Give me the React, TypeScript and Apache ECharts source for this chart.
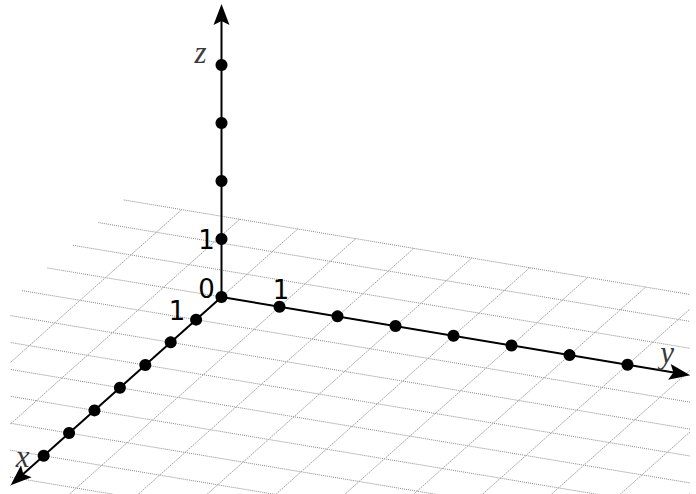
import React, { useEffect, useRef } from "react";
import * as echarts from "echarts";

// ---- data ----
// projection of one unit along each 3D axis onto the page (in z-units: [horizontal, vertical])
const xDir = [-0.438, -0.391];
const yDir = [1.0, -0.167];
const zDir = [0, 1];

const xPoints = [1, 2, 3, 4, 5, 6, 7];
const yPoints = [1, 2, 3, 4, 5, 6, 7];
const zPoints = [1, 2, 3, 4];

const axisNames = ["x", "y", "z"];
const axisLengths = [8.3, 8.08, 5.05];
const axisNameAnchors = [7, 7.7, 4.22];

const tickLabels = ["0", "1", "1", "1"];
const tickLabelAnchors = [
  [0, 0, 0],
  [0, 0, 1],
  [0, 1, 0],
  [1, 0, 0],
];

// grid on the xy-plane
const gridXLines = [-3, -2, -1, 0, 1, 2, 3, 4, 5, 6, 7, 8, 9, 10];
const gridYLines = [-2, -1, 0, 1, 2, 3, 4, 5, 6, 7, 8, 9, 10, 11, 12, 13, 14, 15, 16];
const gridStart = -3;
const gridEnd = 18;

// ---- projection ----
function proj(x: number, y: number, z: number): number[] {
  return [
    x * xDir[0] + y * yDir[0] + z * zDir[0],
    x * xDir[1] + y * yDir[1] + z * zDir[1],
  ];
}

const tickLabelOffsets = [
  [-15, -8],
  [-15, 1],
  [1.5, -17],
  [-19, -9],
];
const axisNameOffsets = [
  [-21, 1],
  [-1, -19],
  [-21, 0],
];

export default function App() {
  const ref = useRef<HTMLDivElement>(null);

  useEffect(() => {
    if (!ref.current) return;
    const chart = echarts.init(ref.current, undefined, { renderer: "svg" });

    const unit = 58;
    const ox = 221.5;
    const oy = 297;
    const gLeft = 10;
    const gWidth = 680;
    const H = 494;

    const gridData: number[][] = [];
    gridXLines.forEach((x) => gridData.push([x, gridStart, x, gridEnd, 0]));
    gridYLines.forEach((y) => gridData.push([gridStart, y, gridEnd, y, 1]));

    const dots: number[][] = [proj(0, 0, 0)];
    xPoints.forEach((v) => dots.push(proj(v, 0, 0)));
    yPoints.forEach((v) => dots.push(proj(0, v, 0)));
    zPoints.forEach((v) => dots.push(proj(0, 0, v)));

    const dirs3 = [
      [1, 0, 0],
      [0, 1, 0],
      [0, 0, 1],
    ];

    const option: any = {
      animation: false,
      grid: { left: gLeft, top: 0, width: gWidth, height: H, containLabel: false },
      xAxis: {
        type: "value",
        min: (gLeft - ox) / unit,
        max: (gLeft + gWidth - ox) / unit,
        show: false,
      },
      yAxis: {
        type: "value",
        min: (oy - H) / unit,
        max: oy / unit,
        show: false,
      },
      series: [
        {
          type: "custom",
          clip: true,
          silent: true,
          data: gridData,
          renderItem: (_p: any, api: any) => {
            const a = api.coord(proj(api.value(0), api.value(1), 0));
            const b = api.coord(proj(api.value(2), api.value(3), 0));
            const diag = api.value(4) === 1;
            return {
              type: "line",
              shape: { x1: a[0], y1: a[1], x2: b[0], y2: b[1] },
              style: diag
                ? { stroke: "#a8a8a8", lineWidth: 1, lineDash: [2, 0.8] }
                : { stroke: "#8a8a8a", lineWidth: 1, lineDash: [1, 1] },
            };
          },
        },
        {
          type: "custom",
          silent: true,
          data: axisLengths.map((len, i) => [i, len]),
          renderItem: (_p: any, api: any) => {
            const i = api.value(0);
            const len = api.value(1);
            const d3 = dirs3[i];
            const o = api.coord(proj(0, 0, 0));
            const t = api.coord(proj(d3[0] * len, d3[1] * len, d3[2] * len));
            const dx = t[0] - o[0];
            const dy = t[1] - o[1];
            const L = Math.sqrt(dx * dx + dy * dy);
            const ux = dx / L;
            const uy = dy / L;
            const nx = -uy;
            const ny = ux;
            const AL = 21;
            const AW = 8;
            const bx = t[0] - AL * ux;
            const by = t[1] - AL * uy;
            const notch = 4;
            return {
              type: "group",
              children: [
                {
                  type: "line",
                  shape: { x1: o[0], y1: o[1], x2: t[0] - 12 * ux, y2: t[1] - 12 * uy },
                  style: { stroke: "#000", lineWidth: 2 },
                },
                {
                  type: "polygon",
                  shape: {
                    points: [
                      [t[0], t[1]],
                      [bx + AW * nx, by + AW * ny],
                      [bx + notch * ux, by + notch * uy],
                      [bx - AW * nx, by - AW * ny],
                    ],
                  },
                  style: { fill: "#000" },
                },
              ],
            };
          },
        },
        {
          type: "scatter",
          silent: true,
          symbol: "circle",
          symbolSize: 12,
          itemStyle: { color: "#000", opacity: 1 },
          data: dots,
        },
        {
          type: "custom",
          silent: true,
          data: tickLabels.map((_t, i) => [i]),
          renderItem: (_p: any, api: any) => {
            const i = api.value(0);
            const a = tickLabelAnchors[i];
            const p = api.coord(proj(a[0], a[1], a[2]));
            return {
              type: "text",
              style: {
                text: tickLabels[i],
                x: p[0] + tickLabelOffsets[i][0],
                y: p[1] + tickLabelOffsets[i][1],
                align: "center",
                verticalAlign: "middle",
                fontFamily: "DejaVu Sans",
                fontSize: 26,
                fill: "#000",
              },
            };
          },
        },
        {
          type: "custom",
          silent: true,
          data: axisNames.map((_t, i) => [i]),
          renderItem: (_p: any, api: any) => {
            const i = api.value(0);
            const d3 = dirs3[i];
            const s = axisNameAnchors[i];
            const p = api.coord(proj(d3[0] * s, d3[1] * s, d3[2] * s));
            return {
              type: "text",
              style: {
                text: axisNames[i],
                x: p[0] + axisNameOffsets[i][0],
                y: p[1] + axisNameOffsets[i][1],
                align: "center",
                verticalAlign: "middle",
                fontFamily: "Liberation Serif",
                fontStyle: "italic",
                fontSize: 31,
                fill: "#3a3a3a",
              },
            };
          },
        },
      ],
    };

    chart.setOption(option);
    return () => chart.dispose();
  }, []);

  return (
    <div
      ref={ref}
      style={{ position: "absolute", left: 0, top: 0, width: 696, height: 494, background: "#fff" }}
    />
  );
}
